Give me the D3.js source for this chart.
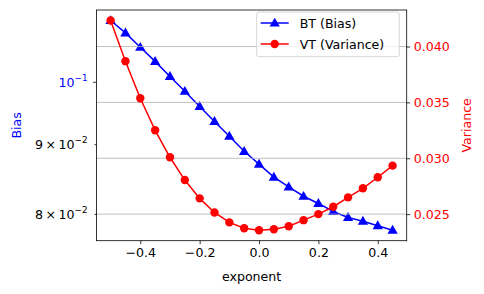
<!DOCTYPE html>
<html>
<head>
<meta charset="utf-8">
<script src="https://cdn.jsdelivr.net/npm/d3@7"></script>
<style>
  body { margin: 0; background: #fff; }
  text { font-family: "DejaVu Sans", sans-serif; }
</style>
</head>
<body>
<div id="chart"></div>
<script>
// exponent values on the x axis
const exponents = [-0.5, -0.45, -0.4, -0.35, -0.3, -0.25, -0.2, -0.15, -0.1, -0.05,
  0, 0.05, 0.1, 0.15, 0.2, 0.25, 0.3, 0.35, 0.4, 0.45]
// BT (Bias), left log axis
const bias = [0.1110, 0.1087, 0.1061, 0.1036, 0.1010, 0.0985, 0.0960, 0.0936, 0.0913, 0.0890,
  0.0871, 0.0852, 0.0838, 0.0825, 0.0815, 0.0804, 0.0796, 0.0791, 0.0785, 0.0779]
// VT (Variance), right linear axis
const variance = [0.04233, 0.03869, 0.03537, 0.03250, 0.03009, 0.02805, 0.02641, 0.02515, 0.02426, 0.02374,
  0.02356, 0.02365, 0.02392, 0.02446, 0.02500, 0.02566, 0.02650, 0.02731, 0.02830, 0.02934]

const xTicks = [-0.4, -0.2, 0.0, 0.2, 0.4]
const biasTicks = [0.08, 0.09, 0.1]
const varianceTicks = [0.025, 0.030, 0.035, 0.040]

const width = 484, height = 294
const margin = { left: 96.5, right: 77.3, top: 10, bottom: 53.3 }
const fs = 12.6

const svg = d3.select('#chart').append('svg')
  .attr('width', width).attr('height', height)

// matplotlib-like 5% margins
const pad = (lo, hi) => [lo - (hi - lo) * 0.05, hi + (hi - lo) * 0.05]
const xDom = pad(d3.min(exponents), d3.max(exponents))
const x = d3.scaleLinear().domain(xDom).range([margin.left, width - margin.right])

const lb = pad(Math.log10(d3.min(bias)), Math.log10(d3.max(bias)))
const yL = d3.scaleLog().domain([10 ** lb[0], 10 ** lb[1]]).range([height - margin.bottom, margin.top])

const vd = pad(d3.min(variance), d3.max(variance))
const yR = d3.scaleLinear().domain(vd).range([height - margin.bottom, margin.top])

const x0 = margin.left, x1 = width - margin.right
const y0 = height - margin.bottom, y1 = margin.top

// blue series (lower axes)
const blueLine = d3.line().x((d, i) => x(exponents[i])).y(d => yL(d))
svg.append('path').datum(bias)
  .attr('d', blueLine).attr('fill', 'none').attr('stroke', '#0000ff').attr('stroke-width', 1.5)
const tri = d3.symbol().type(d3.symbolTriangle).size(46)
svg.append('g').selectAll('path').data(bias).join('path')
  .attr('d', tri)
  .attr('transform', (d, i) => `translate(${x(exponents[i])},${yL(d) + 0.6})`)
  .attr('fill', '#0000ff')

// grid from the twin (right) axis
svg.append('g').selectAll('line').data(varianceTicks).join('line')
  .attr('x1', x0).attr('x2', x1)
  .attr('y1', d => yR(d)).attr('y2', d => yR(d))
  .attr('stroke', '#b0b0b0').attr('stroke-width', 0.8)

// red series
const redLine = d3.line().x((d, i) => x(exponents[i])).y(d => yR(d))
svg.append('path').datum(variance)
  .attr('d', redLine).attr('fill', 'none').attr('stroke', '#ff0000').attr('stroke-width', 1.5)
svg.append('g').selectAll('circle').data(variance).join('circle')
  .attr('cx', (d, i) => x(exponents[i])).attr('cy', d => yR(d))
  .attr('r', 4.2).attr('fill', '#ff0000')

// frame
svg.append('rect').attr('x', x0).attr('y', y1).attr('width', x1 - x0).attr('height', y0 - y1)
  .attr('fill', 'none').attr('stroke', '#000').attr('stroke-width', 0.8)

// x axis
const xa = svg.append('g').attr('transform', `translate(0,${y0})`)
  .call(d3.axisBottom(x).tickValues(xTicks).tickSize(3.5).tickPadding(3.5)
    .tickFormat(d => d3.format('.1f')(d).replace('-', '\u2212')))
xa.select('.domain').remove()
xa.selectAll('line').attr('stroke-width', 0.8)
xa.selectAll('text').attr('font-size', fs).attr('fill', '#000')
  .attr('font-family', '"DejaVu Sans", sans-serif')

// left log axis, labels built by hand for superscripts
const la = svg.append('g')
la.selectAll('line').data(biasTicks).join('line')
  .attr('x1', d => x0 - (d === 0.1 ? 3.5 : 2)).attr('x2', x0)
  .attr('y1', d => yL(d)).attr('y2', d => yL(d))
  .attr('stroke', '#000').attr('stroke-width', 0.8)
const lt = la.selectAll('text').data(biasTicks).join('text')
  .attr('x', x0 - 9).attr('y', d => yL(d) + 4.5)
  .attr('text-anchor', 'end').attr('font-size', fs)
  .attr('fill', d => d === 0.1 ? '#0000ff' : '#000')
lt.append('tspan').text(d => d === 0.1 ? '10' : `${Math.round(d * 100)}\u2009\u00d7\u200910`)
lt.append('tspan').attr('dy', -6).attr('font-size', fs * 0.7)
  .text(d => d === 0.1 ? '\u22121' : '\u22122')

// right axis
const ra = svg.append('g').attr('transform', `translate(${x1},0)`)
  .call(d3.axisRight(yR).tickValues(varianceTicks).tickSize(3.5).tickPadding(3.5)
    .tickFormat(d3.format('.3f')))
ra.select('.domain').remove()
ra.selectAll('line').attr('stroke-width', 0.8)
ra.selectAll('text').attr('font-size', fs).attr('fill', '#ff0000')
  .attr('font-family', '"DejaVu Sans", sans-serif')

// axis labels
svg.append('text').attr('x', (x0 + x1) / 2).attr('y', 281)
  .attr('text-anchor', 'middle').attr('font-size', fs).text('exponent')
svg.append('text').attr('transform', `translate(21,${(y0 + y1) / 2}) rotate(-90)`)
  .attr('text-anchor', 'middle').attr('font-size', fs).attr('fill', '#0000ff').text('Bias')
svg.append('text').attr('transform', `translate(471,${(y0 + y1) / 2}) rotate(-90)`)
  .attr('text-anchor', 'middle').attr('font-size', fs).attr('fill', '#ff0000').text('Variance')

// legend
const lg = svg.append('g').attr('transform', 'translate(256.7,12)')
lg.append('rect').attr('width', 142.6).attr('height', 44.7).attr('rx', 2.5)
  .attr('fill', '#fff').attr('fill-opacity', 0.8).attr('stroke', '#cccccc').attr('stroke-width', 0.8)
const items = [
  { label: 'BT (Bias)', color: '#0000ff', mark: 'tri' },
  { label: 'VT (Variance)', color: '#ff0000', mark: 'circle' }
]
items.forEach((it, i) => {
  const cy = 11 + i * 21
  lg.append('line').attr('x1', 4).attr('x2', 32).attr('y1', cy).attr('y2', cy)
    .attr('stroke', it.color).attr('stroke-width', 1.5)
  if (it.mark === 'tri') {
    lg.append('path').attr('d', tri).attr('transform', `translate(18,${cy + 0.6})`).attr('fill', it.color)
  } else {
    lg.append('circle').attr('cx', 18).attr('cy', cy).attr('r', 4.2).attr('fill', it.color)
  }
  lg.append('text').attr('x', 43).attr('y', cy + 4.5).attr('font-size', fs).text(it.label)
})
</script>
</body>
</html>
